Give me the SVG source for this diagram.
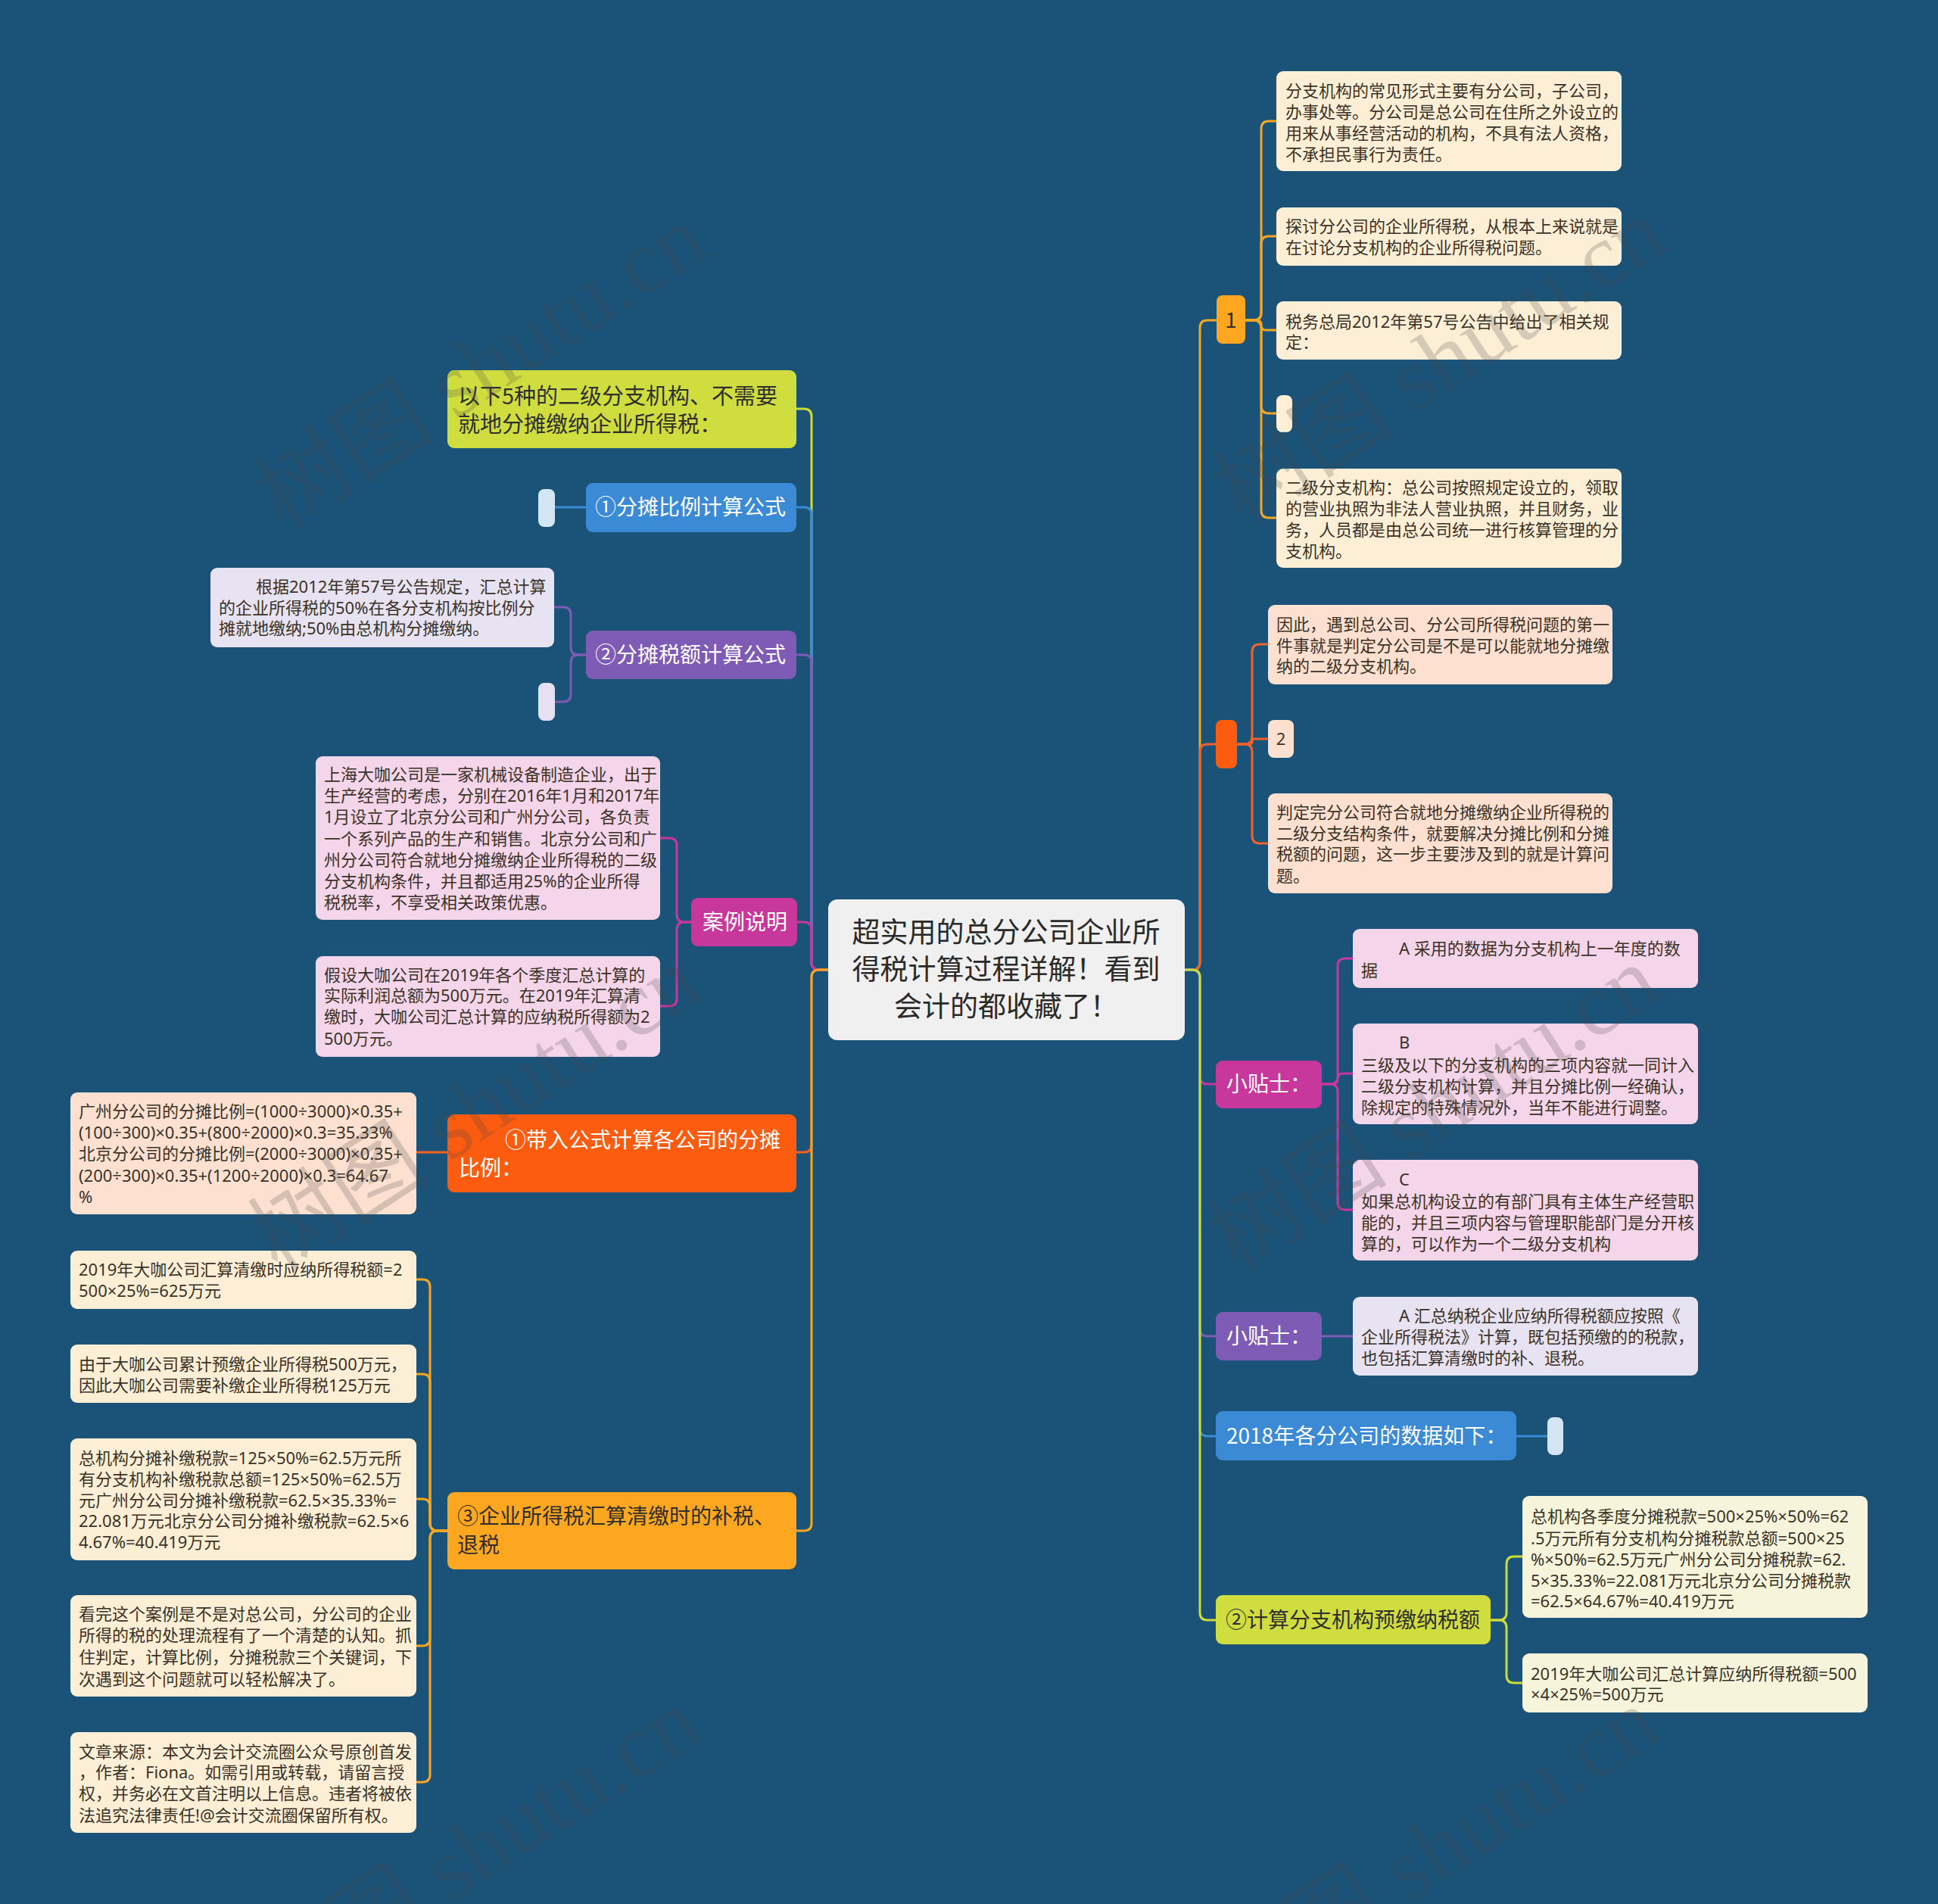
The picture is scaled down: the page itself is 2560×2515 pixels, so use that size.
<svg xmlns="http://www.w3.org/2000/svg" width="2560" height="2515" viewBox="0 0 2560 2515">
<style>
text{font-family:"Noto Sans CJK SC","Noto Sans",sans-serif;}
.s{font-size:22px;fill:#3a3226;font-family:"Noto Sans","Noto Sans CJK SC",sans-serif;}
.m{font-size:28px;}
.w{fill:#ffffff;}
.d{fill:#2f2f2f;}
.c{fill:none;stroke-width:3;stroke-linecap:round;stroke-linejoin:round;}
.wm{font-family:"Liberation Serif","Noto Sans CJK SC",serif;font-size:120px;fill:#4a4a4a;opacity:0.22;}
</style>
<rect x="0" y="0" width="2560" height="2515" fill="#1b5378"/>

<g id="connectors">
<path class="c" stroke="#cddc39" d="M1094 1281 H1082 Q1072 1281 1072 1271 V550 Q1072 540 1062 540 H1052"/>
<path class="c" stroke="#3b8ad6" d="M1094 1281 H1082 Q1072 1281 1072 1271 V680 Q1072 670 1062 670 H1052"/>
<path class="c" stroke="#7e5bb5" d="M1094 1281 H1082 Q1072 1281 1072 1271 V875 Q1072 865 1062 865 H1052"/>
<path class="c" stroke="#c8379c" d="M1094 1281 H1082 Q1072 1281 1072 1271 V1228 Q1072 1218 1062 1218 H1053"/>
<path class="c" stroke="#f8621e" d="M1094 1281 H1082 Q1072 1281 1072 1291 V1512 Q1072 1522 1062 1522 H1052"/>
<path class="c" stroke="#f5a623" d="M1094 1281 H1082 Q1072 1281 1072 1291 V2012 Q1072 2022 1062 2022 H1052"/>
<path class="c" stroke="#f5a623" d="M1565 1281 H1575 Q1585 1281 1585 1271 V433 Q1585 423 1595 423 H1607"/>
<path class="c" stroke="#f0622a" d="M1565 1281 H1575 Q1585 1281 1585 1271 V993 Q1585 983 1595 983 H1606"/>
<path class="c" stroke="#c8379c" d="M1565 1281 H1575 Q1585 1281 1585 1291 V1422 Q1585 1432 1595 1432 H1606"/>
<path class="c" stroke="#7e5bb5" d="M1565 1281 H1575 Q1585 1281 1585 1291 V1755 Q1585 1765 1595 1765 H1606"/>
<path class="c" stroke="#3b8ad6" d="M1565 1281 H1575 Q1585 1281 1585 1291 V1887 Q1585 1897 1595 1897 H1606"/>
<path class="c" stroke="#cddc39" d="M1565 1281 H1575 Q1585 1281 1585 1291 V2130 Q1585 2140 1595 2140 H1606"/>
<path class="c" stroke="#f5a623" d="M1645 423 H1656 Q1666 423 1666 413 V170 Q1666 160 1676 160 H1686"/>
<path class="c" stroke="#f5a623" d="M1645 423 H1656 Q1666 423 1666 413 V322 Q1666 312 1676 312 H1686"/>
<path class="c" stroke="#f5a623" d="M1645 423 H1660 Q1666 423 1666 429 Q1666 436 1672 436 H1686"/>
<path class="c" stroke="#f5a623" d="M1645 423 H1656 Q1666 423 1666 433 V536 Q1666 546 1676 546 H1686"/>
<path class="c" stroke="#f5a623" d="M1645 423 H1656 Q1666 423 1666 433 V674 Q1666 684 1676 684 H1686"/>
<path class="c" stroke="#f0622a" d="M1634 983 H1644 Q1654 983 1654 973 V861 Q1654 851 1664 851 H1675"/>
<path class="c" stroke="#f0622a" d="M1634 983 H1650 Q1654 983 1654 979.5 Q1654 976 1658 976 H1675"/>
<path class="c" stroke="#f0622a" d="M1634 983 H1644 Q1654 983 1654 993 V1104 Q1654 1114 1664 1114 H1675"/>
<path class="c" stroke="#c8379c" d="M1746 1432 H1757 Q1767 1432 1767 1422 V1276 Q1767 1266 1777 1266 H1787"/>
<path class="c" stroke="#c8379c" d="M1746 1432 H1760 Q1767 1432 1767 1425 Q1767 1418 1774 1418 H1787"/>
<path class="c" stroke="#c8379c" d="M1746 1432 H1757 Q1767 1432 1767 1442 V1588 Q1767 1598 1777 1598 H1787"/>
<path class="c" stroke="#7e5bb5" d="M1746 1765 H1787"/>
<path class="c" stroke="#3b8ad6" d="M2003 1897 H2044"/>
<path class="c" stroke="#cddc39" d="M1969 2140 H1980 Q1990 2140 1990 2130 V2066 Q1990 2056 2000 2056 H2011"/>
<path class="c" stroke="#cddc39" d="M1969 2140 H1980 Q1990 2140 1990 2150 V2213 Q1990 2223 2000 2223 H2011"/>
<path class="c" stroke="#3b8ad6" d="M774 670 H733"/>
<path class="c" stroke="#7e5bb5" d="M774 865 H764 Q754 865 754 855 V812 Q754 802 744 802 H732"/>
<path class="c" stroke="#7e5bb5" d="M774 865 H764 Q754 865 754 875 V917 Q754 927 744 927 H733"/>
<path class="c" stroke="#c8379c" d="M913 1218 H904 Q894 1218 894 1208 V1117 Q894 1107 884 1107 H872"/>
<path class="c" stroke="#c8379c" d="M913 1218 H904 Q894 1218 894 1228 V1319 Q894 1329 884 1329 H872"/>
<path class="c" stroke="#f8621e" d="M591 1522 H550"/>
<path class="c" stroke="#f5a623" d="M591 2022 H578 Q568 2022 568 2012 V1700 Q568 1690 558 1690 H550"/>
<path class="c" stroke="#f5a623" d="M591 2022 H578 Q568 2022 568 2012 V1825 Q568 1815 558 1815 H550"/>
<path class="c" stroke="#f5a623" d="M591 2022 H578 Q568 2022 568 2012 V1990 Q568 1980 558 1980 H550"/>
<path class="c" stroke="#f5a623" d="M591 2022 H578 Q568 2022 568 2032 V2164 Q568 2174 558 2174 H550"/>
<path class="c" stroke="#f5a623" d="M591 2022 H578 Q568 2022 568 2032 V2344 Q568 2354 558 2354 H550"/>
</g>

<g id="root">
<rect x="1094" y="1188" width="471" height="186" rx="12" fill="#f0f0f0"/>
<text style="font-size:37px;fill:#2a2a2a" text-anchor="middle"><tspan x="1329" y="1245">超实用的总分公司企业所</tspan><tspan x="1329" y="1294">得税计算过程详解！看到</tspan><tspan x="1329" y="1343">会计的都收藏了！</tspan></text>
</g>

<g id="L1">
<rect x="591" y="489" width="461" height="103" rx="9" fill="#cfdd3f"/>
<text class="d" style="font-size:29px"><tspan x="605" y="534">以下5种的二级分支机构、不需要</tspan><tspan x="605" y="571">就地分摊缴纳企业所得税：</tspan></text>
</g>
<g id="L2">
<rect x="774" y="638" width="278" height="65" rx="9" fill="#3b8ad6"/>
<text class="m w" x="786" y="680">①分摊比例计算公式</text>
</g>
<g id="L2a"><rect x="711" y="646" width="22" height="50" rx="8" fill="#d4e6f5"/></g>
<g id="L3">
<rect x="774" y="833" width="278" height="64" rx="9" fill="#7e5bb5"/>
<text class="m w" x="786" y="875">②分摊税额计算公式</text>
</g>
<g id="L3a">
<rect x="278" y="750" width="454" height="105" rx="9" fill="#e8e3f3"/>
<text class="s"><tspan x="338" y="783">根据2012年第57号公告规定，汇总计算</tspan><tspan x="289" y="811">的企业所得税的50%在各分支机构按比例分</tspan><tspan x="289" y="838">摊就地缴纳;50%由总机构分摊缴纳。</tspan></text>
</g>
<g id="L3b"><rect x="711" y="902" width="22" height="50" rx="8" fill="#e6e1f2"/></g>
<g id="L4">
<rect x="913" y="1186" width="140" height="64" rx="9" fill="#c8379c"/>
<text class="m w" x="928" y="1228">案例说明</text>
</g>
<g id="L4a">
<rect x="417" y="999" width="455" height="216" rx="9" fill="#f5d5ea"/>
<text class="s"><tspan x="428" y="1031">上海大咖公司是一家机械设备制造企业，出于</tspan><tspan x="428" y="1059">生产经营的考虑，分别在2016年1月和2017年</tspan><tspan x="428" y="1087">1月设立了北京分公司和广州分公司，各负责</tspan><tspan x="428" y="1116">一个系列产品的生产和销售。北京分公司和广</tspan><tspan x="428" y="1144">州分公司符合就地分摊缴纳企业所得税的二级</tspan><tspan x="428" y="1172">分支机构条件，并且都适用25%的企业所得</tspan><tspan x="428" y="1200">税税率，不享受相关政策优惠。</tspan></text>
</g>
<g id="L4b">
<rect x="417" y="1263" width="455" height="133" rx="9" fill="#f5d5ea"/>
<text class="s"><tspan x="428" y="1296">假设大咖公司在2019年各个季度汇总计算的</tspan><tspan x="428" y="1323">实际利润总额为500万元。在2019年汇算清</tspan><tspan x="428" y="1351">缴时，大咖公司汇总计算的应纳税所得额为2</tspan><tspan x="428" y="1380">500万元。</tspan></text>
</g>
<g id="L5">
<rect x="591" y="1472" width="461" height="103" rx="9" fill="#fb5c10"/>
<text class="m w"><tspan x="667" y="1516">①带入公式计算各公司的分摊</tspan><tspan x="606" y="1553">比例：</tspan></text>
</g>
<g id="L5a">
<rect x="93" y="1443" width="457" height="161" rx="9" fill="#fde0d0"/>
<text class="s"><tspan x="104" y="1476">广州分公司的分摊比例=(1000÷3000)×0.35+</tspan><tspan x="104" y="1504">(100÷300)×0.35+(800÷2000)×0.3=35.33%</tspan><tspan x="104" y="1532">北京分公司的分摊比例=(2000÷3000)×0.35+</tspan><tspan x="104" y="1561">(200÷300)×0.35+(1200÷2000)×0.3=64.67</tspan><tspan x="104" y="1589">%</tspan></text>
</g>
<g id="L6">
<rect x="591" y="1971" width="461" height="102" rx="9" fill="#fda61f"/>
<text class="m d"><tspan x="604" y="2013">③企业所得税汇算清缴时的补税、</tspan><tspan x="604" y="2051">退税</tspan></text>
</g>
<g id="L6a">
<rect x="93" y="1652" width="457" height="77" rx="9" fill="#fdefd6"/>
<text class="s"><tspan x="104" y="1685">2019年大咖公司汇算清缴时应纳所得税额=2</tspan><tspan x="104" y="1713">500×25%=625万元</tspan></text>
</g>
<g id="L6b">
<rect x="93" y="1776" width="457" height="77" rx="9" fill="#fdefd6"/>
<text class="s"><tspan x="104" y="1810">由于大咖公司累计预缴企业所得税500万元，</tspan><tspan x="104" y="1838">因此大咖公司需要补缴企业所得税125万元</tspan></text>
</g>
<g id="L6c">
<rect x="93" y="1900" width="457" height="161" rx="9" fill="#fdefd6"/>
<text class="s"><tspan x="104" y="1934">总机构分摊补缴税款=125×50%=62.5万元所</tspan><tspan x="104" y="1962">有分支机构补缴税款总额=125×50%=62.5万</tspan><tspan x="104" y="1990">元广州分公司分摊补缴税款=62.5×35.33%=</tspan><tspan x="104" y="2017">22.081万元北京分公司分摊补缴税款=62.5×6</tspan><tspan x="104" y="2045">4.67%=40.419万元</tspan></text>
</g>
<g id="L6d">
<rect x="93" y="2107" width="457" height="134" rx="9" fill="#fdefd6"/>
<text class="s"><tspan x="104" y="2140">看完这个案例是不是对总公司，分公司的企业</tspan><tspan x="104" y="2168">所得的税的处理流程有了一个清楚的认知。抓</tspan><tspan x="104" y="2197">住判定，计算比例，分摊税款三个关键词，下</tspan><tspan x="104" y="2226">次遇到这个问题就可以轻松解决了。</tspan></text>
</g>
<g id="L6e">
<rect x="93" y="2288" width="457" height="133" rx="9" fill="#fdefd6"/>
<text class="s"><tspan x="104" y="2322">文章来源：本文为会计交流圈公众号原创首发</tspan><tspan x="104" y="2349">，作者：Fiona。如需引用或转载，请留言授</tspan><tspan x="104" y="2377">权，并务必在文首注明以上信息。违者将被依</tspan><tspan x="104" y="2406">法追究法律责任!@会计交流圈保留所有权。</tspan></text>
</g>

<g id="R1">
<rect x="1607" y="390" width="38" height="64" rx="8" fill="#fda61f"/>
<text style="font-size:28px;fill:#2f2f2f" text-anchor="middle" x="1626" y="433">1</text>
</g>
<g id="R1a">
<rect x="1686" y="94" width="456" height="132" rx="9" fill="#fdefd6"/>
<text class="s"><tspan x="1698" y="128">分支机构的常见形式主要有分公司，子公司，</tspan><tspan x="1698" y="156">办事处等。分公司是总公司在住所之外设立的</tspan><tspan x="1698" y="184">用来从事经营活动的机构，不具有法人资格，</tspan><tspan x="1698" y="212">不承担民事行为责任。</tspan></text>
</g>
<g id="R1b">
<rect x="1686" y="274" width="456" height="77" rx="9" fill="#fdefd6"/>
<text class="s"><tspan x="1698" y="307">探讨分公司的企业所得税，从根本上来说就是</tspan><tspan x="1698" y="335">在讨论分支机构的企业所得税问题。</tspan></text>
</g>
<g id="R1c">
<rect x="1686" y="398" width="456" height="77" rx="9" fill="#fdefd6"/>
<text class="s"><tspan x="1698" y="433">税务总局2012年第57号公告中给出了相关规</tspan><tspan x="1698" y="460">定：</tspan></text>
</g>
<g id="R1d"><rect x="1686" y="522" width="21" height="49" rx="8" fill="#fdefd6"/></g>
<g id="R1e">
<rect x="1686" y="619" width="456" height="131" rx="9" fill="#fdefd6"/>
<text class="s"><tspan x="1698" y="652">二级分支机构：总公司按照规定设立的，领取</tspan><tspan x="1698" y="680">的营业执照为非法人营业执照，并且财务，业</tspan><tspan x="1698" y="708">务，人员都是由总公司统一进行核算管理的分</tspan><tspan x="1698" y="736">支机构。</tspan></text>
</g>
<g id="R2"><rect x="1606" y="951" width="28" height="64" rx="8" fill="#fb5c10"/></g>
<g id="R2a">
<rect x="1675" y="799" width="455" height="105" rx="9" fill="#fde0d0"/>
<text class="s"><tspan x="1686" y="833">因此，遇到总公司、分公司所得税问题的第一</tspan><tspan x="1686" y="861">件事就是判定分公司是不是可以能就地分摊缴</tspan><tspan x="1686" y="888">纳的二级分支机构。</tspan></text>
</g>
<g id="R2b">
<rect x="1675" y="951" width="34" height="50" rx="8" fill="#fde0d0"/>
<text class="s" text-anchor="middle" x="1692" y="984">2</text>
</g>
<g id="R2c">
<rect x="1675" y="1048" width="455" height="132" rx="9" fill="#fde0d0"/>
<text class="s"><tspan x="1686" y="1081">判定完分公司符合就地分摊缴纳企业所得税的</tspan><tspan x="1686" y="1109">二级分支结构条件，就要解决分摊比例和分摊</tspan><tspan x="1686" y="1136">税额的问题，这一步主要涉及到的就是计算问</tspan><tspan x="1686" y="1165">题。</tspan></text>
</g>
<g id="R3">
<rect x="1606" y="1401" width="140" height="63" rx="9" fill="#c8379c"/>
<text class="m w" x="1620" y="1442">小贴士：</text>
</g>
<g id="R3a">
<rect x="1787" y="1227" width="456" height="78" rx="9" fill="#f5d5ea"/>
<text class="s"><tspan x="1848" y="1261">A 采用的数据为分支机构上一年度的数</tspan><tspan x="1798" y="1290">据</tspan></text>
</g>
<g id="R3b">
<rect x="1787" y="1352" width="456" height="133" rx="9" fill="#f5d5ea"/>
<text class="s"><tspan x="1848" y="1385">B</tspan><tspan x="1798" y="1415">三级及以下的分支机构的三项内容就一同计入</tspan><tspan x="1798" y="1443">二级分支机构计算，并且分摊比例一经确认，</tspan><tspan x="1798" y="1471">除规定的特殊情况外，当年不能进行调整。</tspan></text>
</g>
<g id="R3c">
<rect x="1787" y="1532" width="456" height="133" rx="9" fill="#f5d5ea"/>
<text class="s"><tspan x="1848" y="1566">C</tspan><tspan x="1798" y="1595">如果总机构设立的有部门具有主体生产经营职</tspan><tspan x="1798" y="1623">能的，并且三项内容与管理职能部门是分开核</tspan><tspan x="1798" y="1651">算的，可以作为一个二级分支机构</tspan></text>
</g>
<g id="R4">
<rect x="1606" y="1733" width="140" height="64" rx="9" fill="#7e5bb5"/>
<text class="m w" x="1620" y="1775">小贴士：</text>
</g>
<g id="R4a">
<rect x="1787" y="1713" width="456" height="104" rx="9" fill="#e8e3f3"/>
<text class="s"><tspan x="1848" y="1746">A 汇总纳税企业应纳所得税额应按照《</tspan><tspan x="1798" y="1774">企业所得税法》计算，既包括预缴的的税款，</tspan><tspan x="1798" y="1802">也包括汇算清缴时的补、退税。</tspan></text>
</g>
<g id="R5">
<rect x="1606" y="1864" width="397" height="65" rx="9" fill="#3b8ad6"/>
<text class="m w" x="1620" y="1907">2018年各分公司的数据如下：</text>
</g>
<g id="R5a"><rect x="2044" y="1872" width="21" height="50" rx="8" fill="#d4e6f5"/></g>
<g id="R6">
<rect x="1606" y="2107" width="363" height="65" rx="9" fill="#cfdd3f"/>
<text class="m d" x="1619" y="2150">②计算分支机构预缴纳税额</text>
</g>
<g id="R6a">
<rect x="2011" y="1976" width="456" height="161" rx="9" fill="#f6f5dc"/>
<text class="s"><tspan x="2022" y="2011">总机构各季度分摊税款=500×25%×50%=62</tspan><tspan x="2022" y="2040">.5万元所有分支机构分摊税款总额=500×25</tspan><tspan x="2022" y="2068">%×50%=62.5万元广州分公司分摊税款=62.</tspan><tspan x="2022" y="2096">5×35.33%=22.081万元北京分公司分摊税款</tspan><tspan x="2022" y="2123">=62.5×64.67%=40.419万元</tspan></text>
</g>
<g id="R6b">
<rect x="2011" y="2184" width="456" height="78" rx="9" fill="#f6f5dc"/>
<text class="s"><tspan x="2022" y="2219">2019年大咖公司汇总计算应纳所得税额=500</tspan><tspan x="2022" y="2246">×4×25%=500万元</tspan></text>
</g>

<g id="watermark">
<text class="wm" transform="translate(375 702) rotate(-33)">树图 shutu.cn</text>
<text class="wm" transform="translate(1641 694) rotate(-33)">树图 shutu.cn</text>
<text class="wm" transform="translate(367 1682) rotate(-33)">树图 shutu.cn</text>
<text class="wm" transform="translate(1633 1682) rotate(-33)">树图 shutu.cn</text>
<text class="wm" transform="translate(367 2662) rotate(-33)">树图 shutu.cn</text>
<text class="wm" transform="translate(1633 2662) rotate(-33)">树图 shutu.cn</text>
</g>
</svg>
